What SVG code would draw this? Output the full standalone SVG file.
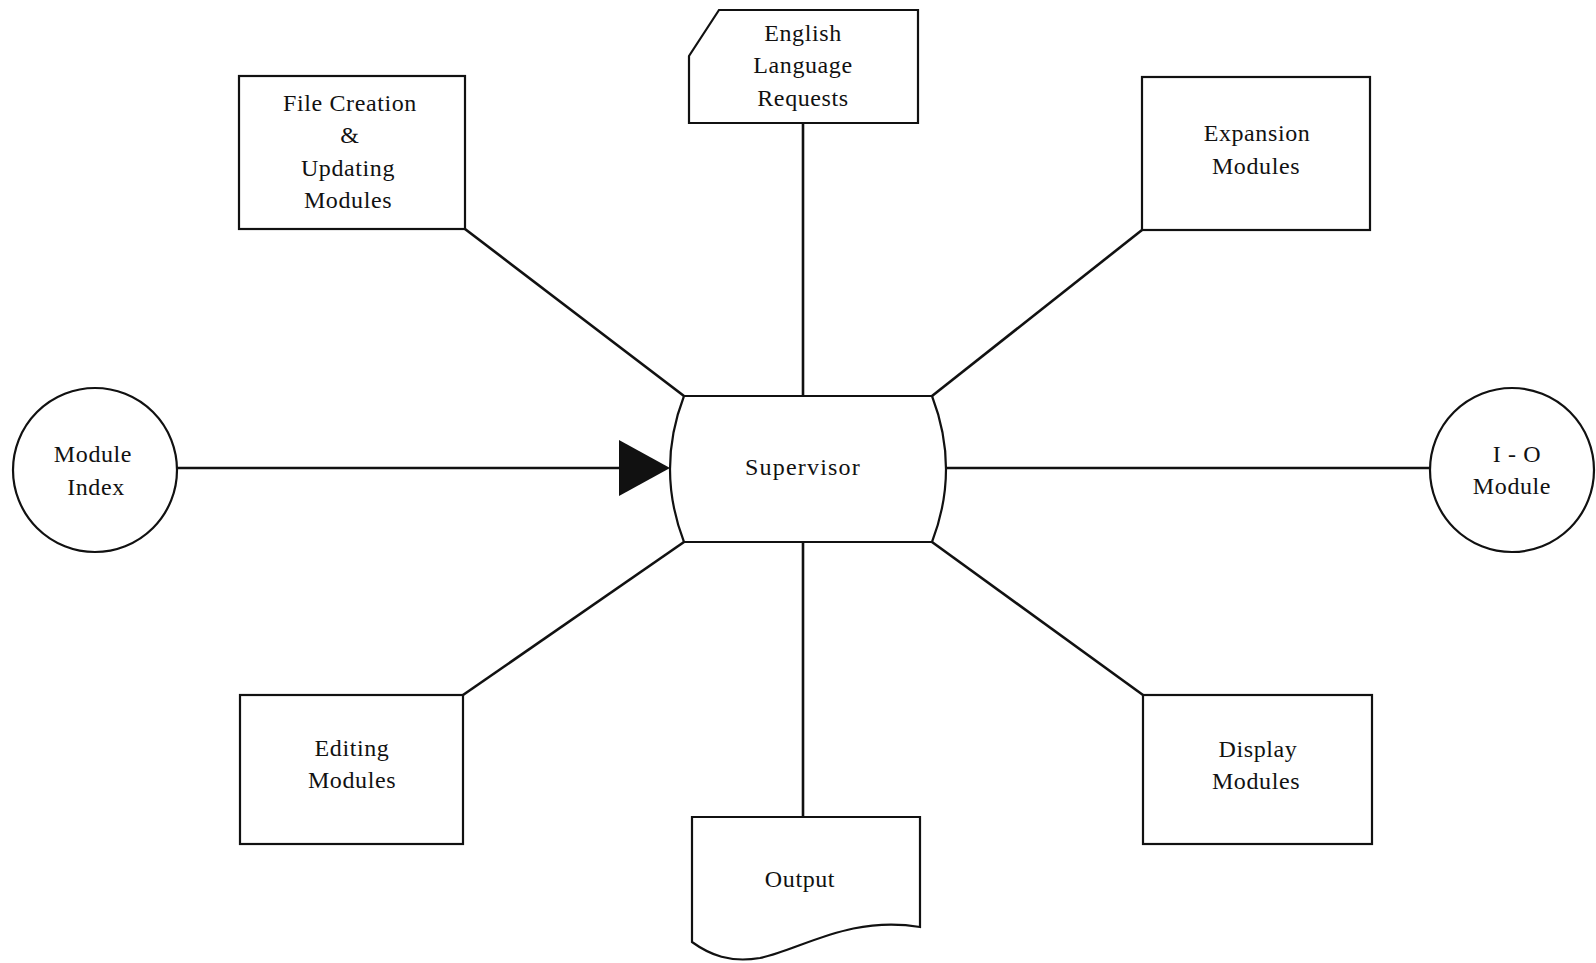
<svg xmlns="http://www.w3.org/2000/svg" width="1596" height="963" viewBox="0 0 1596 963">
<style>
.s{fill:#fff;stroke:#111;stroke-width:2.2;stroke-linejoin:miter}
.c{stroke:#111;stroke-width:2.6;fill:none}
text{font-family:"Liberation Serif","Times New Roman",serif;font-size:24px;fill:#111;text-anchor:middle;letter-spacing:0.6px}
</style>
<rect width="1596" height="963" fill="#fff"/>
<g id="connectors">
<line class="c" x1="177" y1="468" x2="640" y2="468"/>
<polygon points="619,440 670,468 619,496" fill="#111"/>
<line class="c" x1="947" y1="468" x2="1430" y2="468"/>
<line class="c" x1="803" y1="123" x2="803" y2="396"/>
<line class="c" x1="803" y1="542" x2="803" y2="817"/>
<line class="c" x1="465" y1="229" x2="684" y2="396"/>
<line class="c" x1="1142" y1="230" x2="932" y2="396"/>
<line class="c" x1="463" y1="695" x2="684" y2="542"/>
<line class="c" x1="1143" y1="695" x2="932" y2="542"/>
</g>
<g id="supervisor">
<path class="s" d="M684,396 L932,396 Q960,469 932,542 L684,542 Q656,469 684,396 Z"/>
<text x="803" y="475" style="letter-spacing:1.2px">Supervisor</text>
</g>
<g id="english">
<path class="s" d="M719,10 L918,10 L918,123 L689,123 L689,56 Z"/>
<text x="803" y="41">English</text>
<text x="803" y="73">Language</text>
<text x="803" y="106">Requests</text>
</g>
<g id="file-creation">
<rect class="s" x="239" y="76" width="226" height="153"/>
<text x="350" y="111">File Creation</text>
<text x="350" y="143">&amp;</text>
<text x="348" y="176">Updating</text>
<text x="348" y="208">Modules</text>
</g>
<g id="expansion">
<rect class="s" x="1142" y="77" width="228" height="153"/>
<text x="1257" y="141">Expansion</text>
<text x="1256" y="174">Modules</text>
</g>
<g id="editing">
<rect class="s" x="240" y="695" width="223" height="149"/>
<text x="352" y="756">Editing</text>
<text x="352" y="788">Modules</text>
</g>
<g id="display">
<rect class="s" x="1143" y="695" width="229" height="149"/>
<text x="1258" y="757">Display</text>
<text x="1256" y="789">Modules</text>
</g>
<g id="module-index">
<circle class="s" cx="95" cy="470" r="82"/>
<text x="93" y="462">Module</text>
<text x="96" y="495">Index</text>
</g>
<g id="io-module">
<circle class="s" cx="1512" cy="470" r="82"/>
<text x="1517" y="462">I - O</text>
<text x="1512" y="494">Module</text>
</g>
<g id="output">
<path class="s" d="M692,817 L920,817 L920,927 C850,915 800,950 760,958 C730,963 710,955 692,942 Z"/>
<text x="800" y="887">Output</text>
</g>
</svg>
